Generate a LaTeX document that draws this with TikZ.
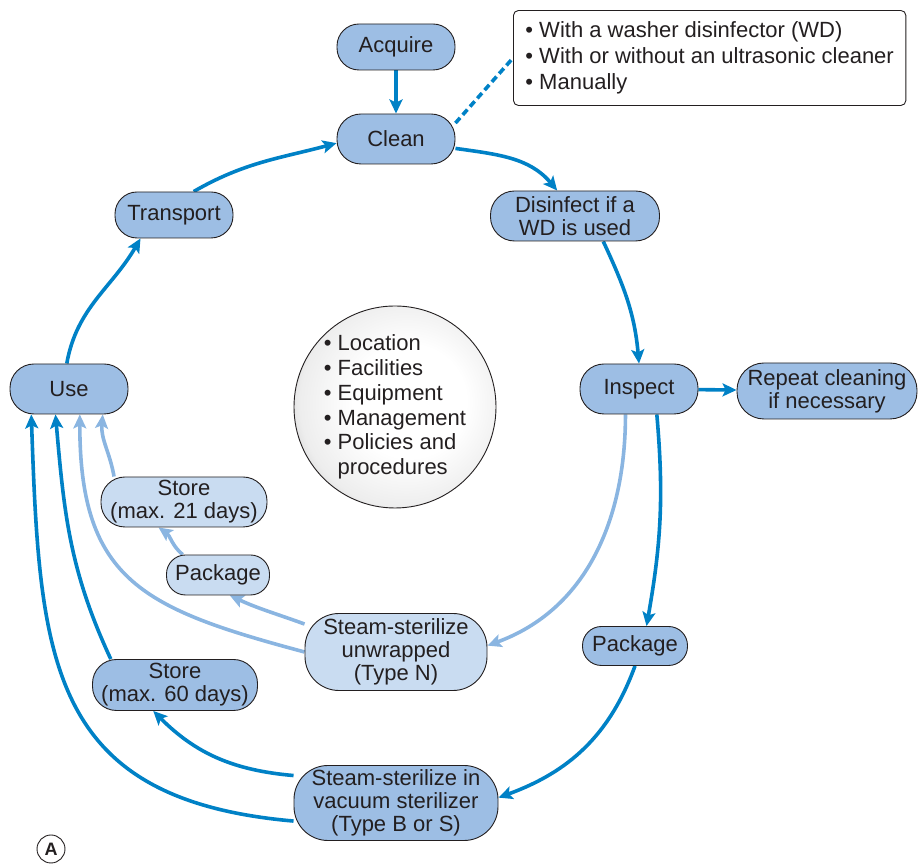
\documentclass[tikz,border=0pt]{standalone}
\usepackage{fontspec}
\setmainfont{Liberation Sans}
\usetikzlibrary{arrows.meta,positioning,backgrounds}
\definecolor{pillblue}{RGB}{157,190,228}
\definecolor{palepill}{RGB}{201,220,241}
\definecolor{flowblue}{RGB}{0,129,198}
\definecolor{paleblue}{RGB}{138,181,225}
\definecolor{inkgray}{RGB}{35,31,32}
\pgfdeclareradialshading{hubglow}{\pgfpoint{5bp}{2bp}}{color(0bp)=(white);
  color(14bp)=(white); color(26bp)=(black!7); color(35bp)=(black!28);
  color(50bp)=(black!28)}

\begin{document}
\begin{tikzpicture}[x=1pt,y=1pt,
    >={Stealth[length=14pt,width=13pt,inset=3pt]},
    box/.style={draw=inkgray,line width=0.9pt,rounded corners=24pt,
                minimum height=50pt,inner sep=2pt,text=inkgray,align=center,
                font=\fontsize{22}{23}\selectfont},
    flow/.style={draw=flowblue,line width=3.6pt},
    lightflow/.style={draw=paleblue,line width=3.6pt}]

    \useasboundingbox (0,0) rectangle (919,864);

    \node[box,fill=pillblue,minimum width=118pt,minimum height=46pt,
          rounded corners=22pt] (acquire) at (396,817) {Acquire};
    \node[box,fill=pillblue,minimum width=118pt] (clean) at (396,725) {Clean};
    \node[box,fill=pillblue,minimum width=118pt,minimum height=46pt,
          rounded corners=22pt] (transport) at (174,649) {Transport};
    \node[box,fill=pillblue,minimum width=169pt] (disinfect) at (575,648)
      {Disinfect if a\\WD is used};
    \node[box,fill=pillblue,minimum width=118pt] (inspect) at (639,475) {Inspect};
    \node[box,fill=pillblue,minimum width=180pt,minimum height=56pt,
          rounded corners=27pt] (repeat) at (827,473)
      {Repeat cleaning\\if necessary};
    \node[box,fill=pillblue,minimum width=118pt] (use) at (69,475) {Use};
    \node[box,fill=palepill,minimum width=166pt] (store21) at (184,362)
      {Store\\(max. 21 days)};
    \node[box,fill=palepill,minimum width=103pt,minimum height=40pt,
          rounded corners=19pt] (packN) at (218,289) {Package};
    \node[box,fill=palepill,minimum width=182pt,minimum height=77pt,
          rounded corners=34pt] (steamN) at (396,212)
      {Steam-sterilize\\unwrapped\\(Type N)};
    \node[box,fill=pillblue,minimum width=105pt,minimum height=39pt,
          rounded corners=19pt] (packB) at (635,218) {Package};
    \node[box,fill=pillblue,minimum width=165pt,minimum height=51pt] (store60)
      at (175,179) {Store\\(max. 60 days)};
    \node[box,fill=pillblue,minimum width=204pt,minimum height=75pt,
          rounded corners=34pt] (steamB) at (396,61)
      {Steam-sterilize in\\vacuum sterilizer\\(Type B or S)};

    \node[circle,draw=inkgray,line width=0.9pt,shading=hubglow,inner sep=-10pt,
          minimum size=202pt,align=left,text=inkgray,
          font=\fontsize{22}{24.8}\selectfont] (hub) at (395,457)
      {\textbullet\ Location\\\textbullet\ Facilities\\\textbullet\ Equipment\\
       \textbullet\ Management\\\textbullet\ Policies and\\
       \phantom{\textbullet\ }procedures};

    \node[draw=inkgray,line width=0.9pt,fill=white,rounded corners=5pt,
          anchor=west,inner xsep=12pt,minimum height=95pt,align=left,
          text=inkgray,font=\fontsize{22}{26}\selectfont] (note) at (513,806)
      {\textbullet\ With a washer disinfector (WD)\\
       \textbullet\ With or without an ultrasonic cleaner\\
       \textbullet\ Manually};

    \node[circle,draw=inkgray,line width=0.9pt,inner sep=0pt,minimum size=28pt,
          text=inkgray,font=\fontsize{18}{18}\selectfont\bfseries] (panel)
      at (51,15) {A};

    \begin{scope}[on background layer]
    \draw[flow,->] (acquire) -- (clean);
    \draw[flow,->] (clean.-9) to[out=-8,in=130] (disinfect.125);
    \draw[flow,->] (disinfect.-42) to[out=-65,in=95] (inspect.north);
    \draw[flow,->] (inspect) -- (repeat);
    \draw[flow,->] (inspect.-55) to[out=-85,in=80] (packB.60);
    \draw[lightflow,->] (inspect.-118) to[out=-90,in=20] (steamN.4);
    \draw[flow,->] (packB.south) to[out=-110,in=20] (steamB.3);
    \draw[flow,->] (steamB.165) to[out=175,in=-45] (store60.-130);
    \draw[flow,->] (steamB.-170) to[out=175,in=-88,looseness=1.3] (use.-146);
    \draw[flow,->] (store60.158) to[out=115,in=-85] (use.-118);
    \draw[lightflow,->] (steamN.163) to[out=160,in=-25] (packN.-60);
    \draw[lightflow,->] (steamN.west) to[out=165,in=-90,looseness=1.3] (use.-67);
    \draw[lightflow,->] (packN.150) to[out=140,in=-35] (store21.-135);
    \draw[lightflow,->] (store21.160) to[out=100,in=-95] (use.-37);
    \draw[flow,->] (use.95) to[out=80,in=-120] (transport.-145);
    \draw[flow,->] (transport.50) to[out=30,in=195] (clean.184);
    \draw[flow,dash pattern=on 7pt off 4pt] (clean.15) -- (note.west);
    \end{scope}
\end{tikzpicture}
\end{document}
